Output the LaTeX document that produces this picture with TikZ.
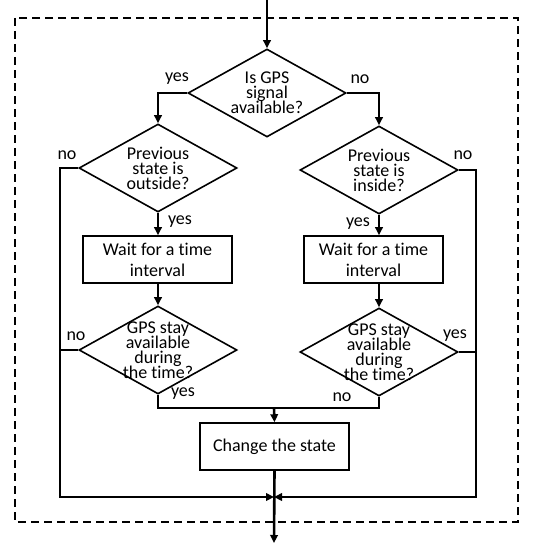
\documentclass[tikz,border=0pt]{standalone}
\usepackage{fontspec}
\setmainfont{Carlito}[Ligatures={NoCommon}]
\usetikzlibrary{shapes.geometric,arrows.meta}
\lineskiplimit=-20pt
\begin{document}
\begin{tikzpicture}[x=1pt,y=-1pt,
  dec/.style={diamond, draw, line width=1.6pt, minimum width=158pt, minimum height=88pt, inner sep=0pt},
  dtext/.style={font=\fontsize{18}{15}\selectfont, align=center, inner sep=0pt},
  proc/.style={rectangle, draw, line width=1.6pt, minimum width=149pt, minimum height=47pt, align=center, font=\fontsize{18}{21}\selectfont},
  lab/.style={font=\fontsize{18}{18}\selectfont, inner sep=0pt},
  conn/.style={line width=2.6pt},
  arr/.style={conn, -{Triangle[length=8pt,width=7.5pt]}},
  frame/.style={line width=1.6pt, dash pattern=on 8pt off 5pt}]
\useasboundingbox (0,0) rectangle (536,543);
\draw[frame] (15,18) rectangle (518,522);
% decisions
\node[dec, label={[dtext]center:{Is GPS\\signal\\available?}}] (d1) at (267,93) {};
\node[dec, label={[dtext]center:{Previous\\state is\\outside?}}] (d2L) at (158,168) {};
\node[dec, label={[dtext]center:{Previous\\state is\\inside?}}] (d2R) at (379,170) {};
\node[proc, minimum width=149pt] (b1L) at (157.5,259.5) {Wait for a time\\interval};
\node[proc, minimum width=139pt] (b1R) at (373.5,259.5) {Wait for a time\\interval};
\node[dec, label={[dtext]center:{GPS stay\\available\\during\\the time?}}] (d3L) at (158,350) {};
\node[dec, label={[dtext]center:{GPS stay\\available\\during\\the time?}}] (d3R) at (379,352) {};
\node[proc] (ch) at (274.5,446.5) {Change the state};
% coordinates
\coordinate (top) at (267,0);
\coordinate (bot) at (274,543);
\coordinate (j) at (274,497);
\coordinate (m) at (274,408);
\coordinate (ll) at (60,497);
\coordinate (rr) at (476,497);
% connectors
\draw[arr] (top) -- (d1.north);
\draw[arr] (d1.west) -| (d2L.north);
\draw[arr] (d1.east) -| (d2R.north);
\draw[arr] (d2L.south) -- (d2L.south |- b1L.north);
\draw[arr] (d2R.south) -- (d2R.south |- b1R.north);
\draw[arr] (d3L.north |- b1L.south) -- (d3L.north);
\draw[arr] (d3R.north |- b1R.south) -- (d3R.north);
\draw[arr] (d2L.west) -| (ll) -- (j);
\draw[arr] (d2R.east) -| (rr) -- (j);
\draw[conn] (d3L.west) -- (d3L.west -| ll);
\draw[conn] (d3R.east) -- (d3R.east -| rr);
\draw[conn] (d3L.south) |- (m) -| (d3R.south);
\draw[arr] (m) -- (ch.north);
\draw[arr] (ch.south) -- (bot);
% labels
\node[lab] (l1) at (177,79) {yes};
\node[lab] (l2) at (360,79) {no};
\node[lab] (l3) at (67,155) {no};
\node[lab] (l4) at (463,155) {no};
\node[lab] (l5) at (180,222) {yes};
\node[lab] (l6) at (358,224) {yes};
\node[lab] (l7) at (76,336) {no};
\node[lab] (l8) at (455,336) {yes};
\node[lab] (l9) at (183,394) {yes};
\node[lab] (l10) at (342,397) {no};
\end{tikzpicture}
\end{document}
